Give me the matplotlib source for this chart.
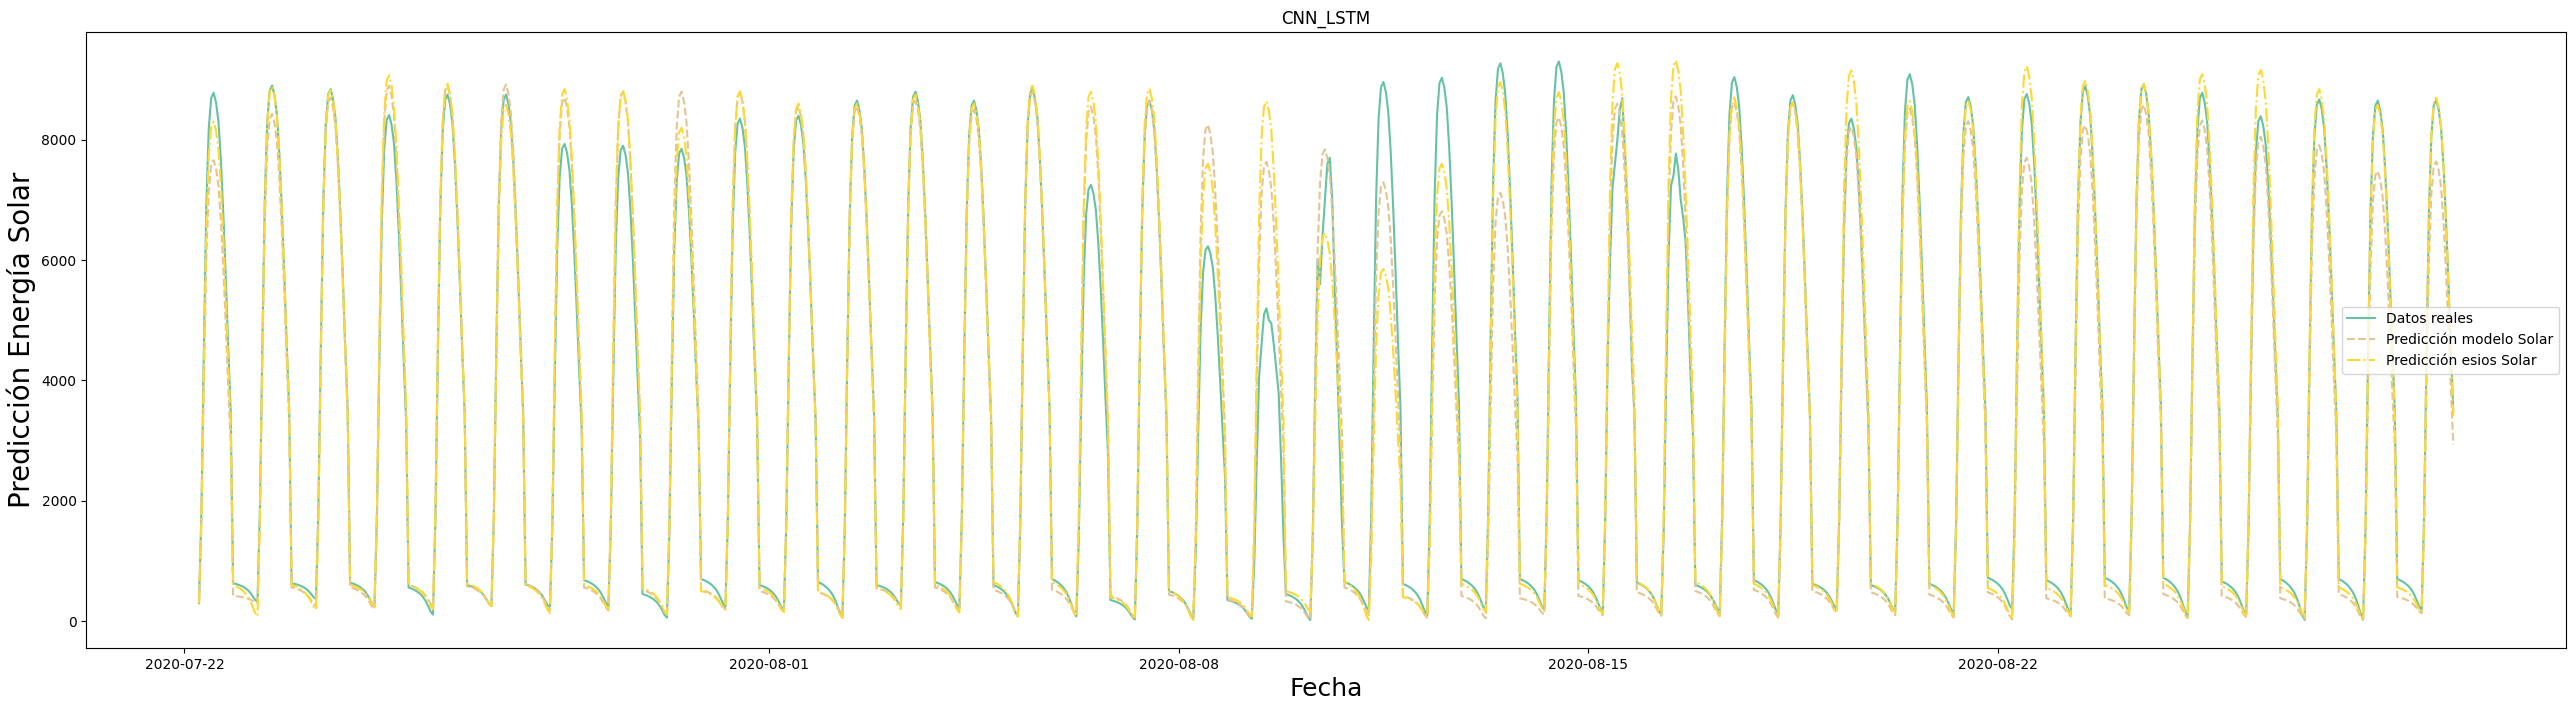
import numpy as np
import pandas as pd
import matplotlib
matplotlib.use("Agg")
import matplotlib.pyplot as plt
import matplotlib.dates as mdates

# ---------------- data ----------------
days = pd.date_range("2020-07-22", "2020-08-29", freq="D")  # 39 days

# daily peak values
real_peak = [8780, 8900, 8840, 8410, 8750, 8750, 7930, 7900, 7850, 8350,
             8400, 8650, 8800, 8650, 8850, 7250, 8650, 6230, 5200, 7700,
             8960, 9030, 9270, 9300, 8690, 7770, 9040, 8740, 8350, 9090,
             8710, 8760, 8890, 8920, 8780, 8390, 8670, 8650, 8660]
model_peak = [7660, 8430, 8700, 8900, 8900, 8920, 8700, 8800, 8800, 8800,
              8550, 8550, 8650, 8500, 8800, 8550, 8650, 8250, 7630, 7840,
              7290, 6810, 7120, 8370, 8600, 8720, 8620, 8620, 8210, 8520,
              8310, 7700, 8240, 8580, 8320, 8050, 7910, 7480, 7640]
esios_peak = [8300, 8880, 8820, 9070, 8930, 8580, 8840, 8820, 8200, 8800,
              8600, 8600, 8750, 8600, 8900, 8800, 8850, 7600, 8640, 6450,
              5850, 7600, 8960, 8790, 9270, 9320, 8700, 8620, 9150, 8640,
              8650, 9220, 8980, 8930, 9090, 9160, 8840, 8580, 8700]

# evening plateau level (night after each day, 38 nights)
real_plateau = [630, 630, 640, 560, 600, 610, 680, 450, 700, 600,
                650, 600, 650, 600, 700, 350, 500, 350, 450, 650,
                620, 700, 700, 680, 640, 600, 680, 620, 600, 620,
                720, 680, 720, 720, 660, 700, 700, 700]
model_plateau = [420, 560, 560, 600, 580, 620, 560, 520, 520, 500,
                 480, 550, 560, 520, 520, 420, 440, 360, 330, 560,
                 420, 420, 380, 420, 480, 500, 520, 500, 480, 440,
                 480, 380, 380, 450, 420, 380, 450, 400]
esios_plateau = [600, 600, 600, 600, 620, 600, 600, 550, 500, 550,
                 500, 550, 600, 650, 650, 400, 500, 400, 500, 650,
                 400, 620, 620, 620, 650, 650, 620, 600, 620, 600,
                 550, 550, 600, 620, 580, 560, 560, 560]

# early-morning minimum of each day (06:00)
real_min = [300, 320, 370, 250, 110, 250, 220, 250, 60, 240,
            180, 60, 260, 220, 80, 80, 30, 55, 40, 20,
            180, 100, 170, 190, 140, 110, 150, 120, 200, 160,
            130, 200, 120, 160, 80, 110, 20, 50, 180]
model_min = [300, 300, 250, 200, 250, 250, 180, 180, 100, 200,
             150, 120, 250, 150, 120, 100, 60, 80, 50, 30,
             100, 60, 50, 110, 100, 90, 80, 60, 150, 100,
             60, 30, 80, 100, 50, 70, 40, 20, 130]
esios_min = [300, 80, 190, 250, 200, 250, 135, 200, 110, 190,
             150, 60, 200, 150, 80, 80, 40, 20, 80, 165,
             20, 80, 150, 170, 120, 100, 90, 80, 150, 140,
             80, 40, 100, 140, 60, 90, 80, 30, 150]

# typical hourly profile (fraction of the daily swing)
rise_hours = [6, 7, 8, 9, 10, 11, 12]
rise_shape = [0.0, 0.18, 0.50, 0.78, 0.93, 0.99, 1.0]
fall_hours = [13, 14, 15, 16, 17, 18, 19]
fall_shape = [0.98, 0.94, 0.86, 0.75, 0.62, 0.48, 0.35]
night_hours = [20, 21, 22, 23, 0, 1, 2, 3, 4, 5]
night_shape = [0.0, 0.03, 0.07, 0.12, 0.18, 0.26, 0.36, 0.50, 0.68, 0.88]

# hours that deviate from the typical profile (real data)
real_overrides = {
    "2020-08-09": {10: 4600, 11: 5100, 12: 5200, 13: 5000, 14: 4950,
                   15: 4600, 16: 4200, 17: 3800, 18: 2700, 19: 1400},
    "2020-08-10": {10: 5600, 11: 6400, 12: 7000, 13: 7600, 14: 7700,
                   15: 7000, 16: 5600, 17: 4300, 18: 3000, 19: 1600},
    "2020-08-15": {9: 6000, 10: 7200, 11: 7600, 12: 8000, 13: 8500,
                   14: 8690, 15: 7900, 16: 7000, 17: 5600, 18: 4200},
    "2020-08-16": {11: 7400, 12: 7770, 13: 7500, 14: 7000, 15: 6700,
                   16: 6300, 17: 5300, 18: 4100},
}


def build(peak, plateau, vmin, overrides=None):
    overrides = overrides or {}
    ts, vals = [], []
    n = len(days)
    for k, d in enumerate(days):
        ov = overrides.get(d.strftime("%Y-%m-%d"), {})
        for h, f in zip(rise_hours, rise_shape):
            ts.append(d + pd.Timedelta(hours=h))
            vals.append(ov.get(h, vmin[k] + (peak[k] - vmin[k]) * f))
        base = plateau[k] if k < n - 1 else plateau[-1]
        for h, f in zip(fall_hours, fall_shape):
            ts.append(d + pd.Timedelta(hours=h))
            vals.append(ov.get(h, base + (peak[k] - base) * f))
        if k < n - 1:
            for h, f in zip(night_hours, night_shape):
                off = h if h >= 20 else h + 24
                ts.append(d + pd.Timedelta(hours=off))
                vals.append(plateau[k] + (vmin[k + 1] - plateau[k]) * f)
    return pd.Series(vals, index=pd.DatetimeIndex(ts))


real = build(real_peak, real_plateau, real_min, real_overrides)
model = build(model_peak, model_plateau, model_min)
esios = build(esios_peak, esios_plateau, esios_min)

# ---------------- plot ----------------
fig = plt.figure(figsize=(25.75, 7.11), dpi=100)
ax = fig.add_axes([0.03351, 0.0886, 0.9630, 0.8660])

ax.plot(real.index, real.values, color="#66c2a5", lw=1.5, ls="-",
        label="Datos reales")
ax.plot(model.index, model.values, color="#e5c494", lw=1.5, ls="--",
        label="Predicción modelo Solar")
ax.plot(esios.index, esios.values, color="#ffd92f", lw=1.5, ls="-.",
        label="Predicción esios Solar")

ax.xaxis.set_major_locator(mdates.DayLocator(bymonthday=[1, 8, 15, 22]))
ax.xaxis.set_major_formatter(mdates.DateFormatter("%Y-%m-%d"))

ax.set_title("CNN_LSTM", fontsize=12)
ax.set_xlabel("Fecha", fontsize=18)
ax.set_ylabel("Predicción Energía Solar", fontsize=20)
ax.legend(loc="center right", fontsize=10)

fig.savefig("out.png", dpi=100)
